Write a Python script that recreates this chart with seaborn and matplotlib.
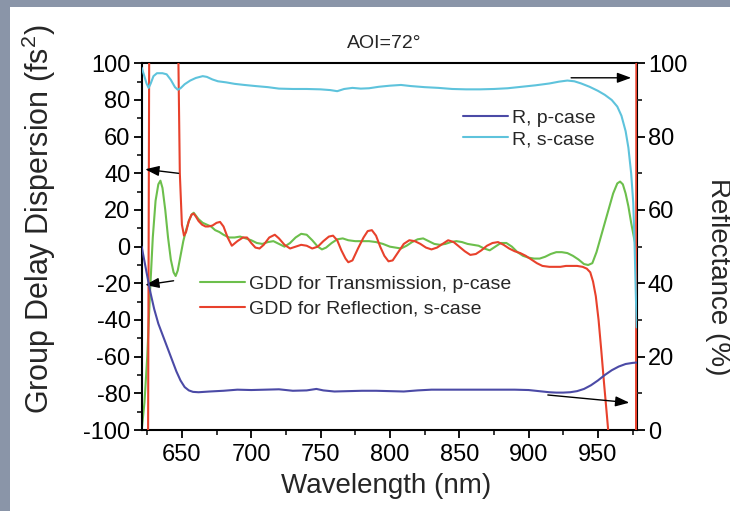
import matplotlib
matplotlib.use("Agg")
import matplotlib.pyplot as plt
from matplotlib.ticker import MultipleLocator
from matplotlib.patches import Rectangle
import pandas as pd
import seaborn as sns

# ---- measured curves: (wavelength nm, value) ----
# GDD for transmission, p-case (fs^2, left axis)
gdd_trans_p = [
    (621, -100), (623, -85), (625, -60), (627, -25), (629, 5), (631, 25), (633, 34),
    (634.5, 36), (636, 32), (638, 20), (640, 5), (642, -7), (644, -14), (645.5, -16),
    (647, -13), (649, -5), (651, 3), (653, 9), (655, 14), (657, 17.5), (658.5, 18.5),
    (660, 17), (662, 15), (665, 13), (668, 12), (671, 11), (674, 9), (677, 8), (680, 6.5),
    (684, 5), (688, 5), (692, 5.5), (696, 4.5), (700, 3.5), (704, 2), (708, 1.5),
    (712, 2.5), (716, 3), (720, 1.5), (724, 0), (728, 2), (732, 5), (736, 7), (740, 6.5),
    (744, 3.5), (748, 0), (751, -1.5), (754, -0.5), (758, 2), (762, 4), (766, 4.5),
    (770, 3.5), (775, 3), (780, 3), (785, 3), (790, 2.5), (795, 1.5), (800, 0),
    (804, -0.5), (808, -1), (812, 0.5), (816, 2.5), (820, 4), (824, 4.5), (828, 3),
    (832, 1.5), (836, 1), (840, 1.5), (844, 2.5), (848, 3), (852, 2.5), (856, 1.5),
    (860, 1), (864, 0.5), (868, -1), (872, -2), (876, 0), (880, 2), (884, 2), (888, 0),
    (892, -3), (896, -5), (900, -6), (904, -6.5), (908, -6.5), (912, -5.5), (916, -4),
    (920, -3), (924, -3), (928, -3.5), (932, -5), (936, -7), (940, -9.5), (943, -10),
    (946, -9), (949, -3), (952, 5), (955, 13), (958, 21), (961, 29), (964, 34.5),
    (966, 35.5), (968, 34), (970, 29), (972, 22), (974, 13), (976, 5), (977.5, 0),
]

# GDD for reflection, s-case (fs^2, left axis); runs off-scale at both band edges
gdd_refl_s = [
    (621, -130), (625.5, -130), (626.5, 130), (647, 130), (648.5, 40), (650, 12),
    (651.5, 6), (653, 8), (655, 14), (657, 17.5), (658.5, 18), (660, 16.5), (662, 14),
    (664.5, 12), (667, 11), (669, 11), (672, 11.5), (675, 13), (677.5, 13.5), (680, 11),
    (683, 5), (686, 0.5), (690, 3), (694, 5), (697, 5), (700, 2), (703, -0.5), (706, -1),
    (709, 1), (713, 5), (717, 6.5), (720, 4.5), (724, 1), (728, -1), (732, 0), (736, 1),
    (740, 0.5), (744, -1), (748, 0), (752, 3), (756, 5.5), (759, 6), (762, 3.5),
    (765, -2), (768, -6.5), (770, -8.5), (773, -7.5), (777, -1), (781, 5), (784, 8.5),
    (787, 9), (790, 6), (793, 0), (796, -5), (799, -8), (802, -7.5), (806, -3),
    (810, 1.5), (814, 3.5), (818, 3), (822, 1.5), (826, -0.5), (830, -1.5), (834, -0.5),
    (838, 1.5), (842, 3.5), (846, 2.5), (850, 0), (854, -2.5), (858, -4.5), (862, -4),
    (866, -2), (870, 0.5), (874, 2), (878, 2.5), (882, 1), (886, -1), (890, -2.5),
    (894, -3.5), (898, -5), (902, -7), (906, -9), (910, -10.5), (915, -11), (919, -11),
    (923, -11), (927, -10.5), (931, -10.5), (935, -10.5), (939, -11), (942, -12),
    (944.5, -14), (946.5, -19), (948.5, -27), (950.5, -40), (952.5, -57), (954.5, -75),
    (956.5, -92), (958, -105), (959, -130), (977.5, -130), (977.8, 130),
]

# Reflectance, p-case (%, right axis)
refl_p = [
    (621, 50), (624, 44), (627, 38), (630, 33), (633, 29), (636, 26), (640, 22),
    (643, 19), (646, 16), (649, 13.5), (652, 11.7), (655, 10.8), (658, 10.4),
    (662, 10.3), (670, 10.5), (680, 10.7), (690, 11.0), (700, 10.9), (710, 11.0),
    (720, 11.1), (730, 10.7), (740, 10.8), (747, 11.2), (752, 10.8), (760, 10.5),
    (770, 10.6), (780, 10.7), (790, 10.7), (800, 10.6), (810, 10.5), (820, 10.8),
    (830, 11.0), (840, 11.0), (850, 11.0), (860, 11.0), (870, 11.0), (880, 11.0),
    (890, 11.0), (900, 10.9), (905, 10.7), (910, 10.5), (915, 10.3), (920, 10.2),
    (925, 10.2), (930, 10.3), (935, 10.6), (940, 11.2), (945, 12.2), (950, 13.5),
    (955, 15), (960, 16.3), (965, 17.3), (970, 18.0), (975, 18.3), (978, 18.4),
]

# Reflectance, s-case (%, right axis)
refl_s = [
    (621, 98.8), (622.5, 97), (624.5, 94.5), (626, 93.3), (627.5, 94.5), (629.5, 96.5),
    (632, 97.3), (636, 97.3), (639, 97), (642, 95.5), (645, 93.5), (647, 92.8),
    (649, 93.2), (652, 94.3), (656, 95.3), (660, 96), (665, 96.5), (668, 96.3),
    (672, 95.6), (676, 95.1), (682, 94.8), (688, 94.4), (695, 94.1), (703, 93.8),
    (712, 93.5), (720, 93.1), (730, 93.0), (740, 93.0), (750, 92.9), (757, 92.7),
    (762, 92.4), (767, 93.0), (773, 93.3), (779, 93.1), (785, 93.2), (792, 93.6),
    (800, 93.9), (808, 94.1), (815, 93.8), (825, 93.5), (835, 93.3), (845, 93.0),
    (855, 92.9), (865, 92.9), (875, 93.0), (885, 93.2), (895, 93.6), (905, 94.0),
    (915, 94.5), (922, 95.0), (928, 95.3), (933, 95.1), (938, 94.5), (944, 93.6),
    (950, 92.5), (955, 91.4), (960, 90), (964, 88.2), (967, 85.7), (970, 81.5),
    (972, 77), (974, 70), (975.5, 62), (976.5, 50), (977.3, 38), (978, 28),
]

labels = {
    "trans": "GDD for Transmission, p-case",
    "refl": "GDD for Reflection, s-case",
    "rp": "R, p-case",
    "rs": "R, s-case",
}
colors = {"trans": "#6cbf4c", "refl": "#e8412c", "rp": "#4b4aa6", "rs": "#5ec3dc"}

# arrows linking each curve family to its axis: (tail, head) in wavelength / GDD units
arrows = [
    ((930.7, 92.1), (974.0, 92.1)),
    ((913.9, -80.9), (972.7, -85.1)),
    ((647.6, 40.0), (623.5, 42.2)),
    ((644.0, -18.6), (623.5, -20.9)),
]


def frame(pairs):
    return pd.DataFrame(pairs, columns=["wavelength", "value"])


sns.set_theme(style="ticks")
plt.rcParams["font.family"] = ["Liberation Sans", "DejaVu Sans"]
plt.rcParams["mathtext.fontset"] = "custom"
plt.rcParams["mathtext.rm"] = "Liberation Sans"
plt.rcParams["mathtext.it"] = "Liberation Sans:italic"
plt.rcParams["axes.unicode_minus"] = False

frame_grey = "#8a95a8"
fig = plt.figure(figsize=(7.3, 5.11), dpi=100)
fig.patch.set_facecolor(frame_grey)
fig.add_artist(Rectangle((10 / 730, 0), 1, 1 - 7 / 511, transform=fig.transFigure,
                         facecolor="white", edgecolor="none", zorder=-10))

ax = fig.add_axes([0.1941, 0.1585, 0.6781, 0.7176])
ax.set_facecolor("none")
ax2 = ax.twinx()

lw = 1.5
sns.lineplot(data=frame(gdd_trans_p), x="wavelength", y="value", ax=ax, color=colors["trans"],
             lw=lw, estimator=None, sort=False, label=labels["trans"])
sns.lineplot(data=frame(gdd_refl_s), x="wavelength", y="value", ax=ax, color=colors["refl"],
             lw=lw, estimator=None, sort=False, label=labels["refl"], zorder=3)
sns.lineplot(data=frame(refl_p), x="wavelength", y="value", ax=ax2, color=colors["rp"],
             lw=lw, estimator=None, sort=False, label=labels["rp"])
sns.lineplot(data=frame(refl_s), x="wavelength", y="value", ax=ax2, color=colors["rs"],
             lw=lw, estimator=None, sort=False, label=labels["rs"])

ax.set_xlim(621, 978)
ax.set_ylim(-100, 100)
ax2.set_ylim(0, 100)

ax.xaxis.set_major_locator(MultipleLocator(50))
ax.xaxis.set_minor_locator(MultipleLocator(25))
ax.yaxis.set_major_locator(MultipleLocator(20))
ax.yaxis.set_minor_locator(MultipleLocator(10))
ax2.yaxis.set_major_locator(MultipleLocator(20))
ax2.yaxis.set_minor_locator(MultipleLocator(10))

# the frame is drawn by the primary axes so the reflection curve can sit over its right edge
for sp in ax.spines.values():
    sp.set_linewidth(1.5)
    sp.set_color("black")
for sp in ax2.spines.values():
    sp.set_visible(False)

for a in (ax, ax2):
    a.tick_params(which="major", direction="out", length=6, width=1.3, labelsize=17,
                  pad=2, colors="black")
    a.tick_params(which="minor", direction="out", length=3.5, width=1.3)
ax.tick_params(axis="x", which="both", top=False)
ax.tick_params(axis="y", which="both", right=False)
ax.tick_params(axis="x", which="major", pad=4)
ax2.tick_params(axis="y", which="both", left=False)
ax2.tick_params(axis="x", which="both", bottom=False, top=False)

ax.set_xlabel("Wavelength (nm)", fontsize=20, va="center")
ax.xaxis.set_label_coords(0.493, -0.1527)
ax.set_ylabel("Group Delay Dispersion (fs$^2$)", fontsize=22, va="center")
ax.yaxis.set_label_coords(-0.2075, 0.575)
ax2.set_ylabel("Reflectance (%)", fontsize=20, rotation=270, va="center")
ax2.yaxis.set_label_coords(1.165, 0.417)

fig.text(384 / 730, 1 - 43 / 511, "AOI=72°", ha="center", va="center", fontsize=14)

h1, l1 = ax.get_legend_handles_labels()
ax.legend(h1, l1, loc="center left", bbox_to_anchor=(0.118, 0.3646), frameon=False,
          fontsize=14, handlelength=2.3, handletextpad=0.2, labelspacing=0.38,
          borderpad=0, borderaxespad=0)
h2, l2 = ax2.get_legend_handles_labels()
ax2.legend(h2, l2, loc="center left", bbox_to_anchor=(0.649, 0.8217), frameon=False,
           fontsize=14, handlelength=2.3, handletextpad=0.2, labelspacing=0.2,
           borderpad=0, borderaxespad=0)

for tail, head in arrows:
    ax.annotate("", xy=head, xytext=tail,
                arrowprops=dict(arrowstyle="-|>,head_length=0.6,head_width=0.22",
                                color="black", lw=1.0, shrinkA=0, shrinkB=0,
                                mutation_scale=14))

fig.savefig("out.png", dpi=100, facecolor=fig.get_facecolor())
